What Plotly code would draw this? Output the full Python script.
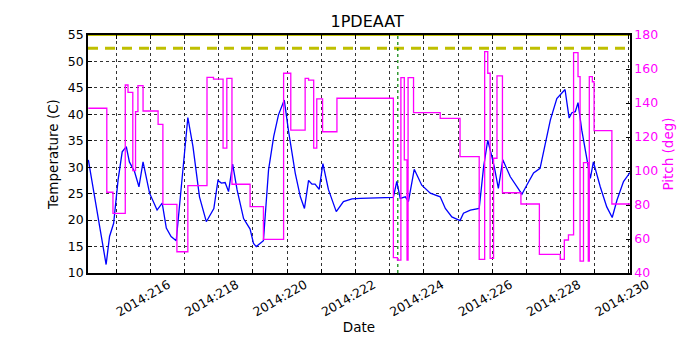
import plotly.graph_objects as go

# temperature (day of year 2014, deg C)
temp_day = [214.19, 214.71, 214.81, 214.93, 215.06, 215.18, 215.30, 215.39, 215.54, 215.67,
            215.79, 215.98, 216.20, 216.35, 216.47, 216.61, 216.76, 216.96, 217.10, 217.25,
            217.44, 217.64, 217.86, 217.98, 218.08, 218.19, 218.29, 218.41, 218.54, 218.73,
            218.92, 219.02, 219.10, 219.31, 219.46, 219.61, 219.75, 219.92, 220.04, 220.24,
            220.39, 220.51, 220.63, 220.73, 220.82, 220.94, 221.05, 221.21, 221.44, 221.65,
            221.90, 222.14, 223.11, 223.21, 223.31, 223.46, 223.55, 223.72, 223.94, 224.19,
            224.48, 224.63, 224.82, 225.06, 225.16, 225.36, 225.62, 225.75, 225.87, 225.99,
            226.06, 226.18, 226.31, 226.53, 226.87, 227.01, 227.21, 227.40, 227.55, 227.70,
            227.89, 228.13, 228.25, 228.33, 228.43, 228.51, 228.62, 228.77, 228.87, 228.96,
            229.16, 229.35, 229.51, 229.65, 229.84, 230.03]
temp_c = [31.4, 11.6, 16.9, 19.4, 27.6, 32.9, 33.9, 31.0, 29.2, 26.3,
          31.0, 25.1, 21.9, 23.2, 18.5, 16.9, 16.1, 30.7, 39.4, 33.9,
          24.4, 19.7, 22.2, 27.5, 27.0, 27.1, 25.4, 30.6, 25.7, 20.3,
          18.3, 15.6, 15.0, 16.1, 29.5, 35.8, 39.9, 42.7, 37.0, 28.9,
          24.4, 22.2, 27.5, 26.8, 26.8, 25.8, 30.7, 25.8, 21.6, 23.5,
          24.0, 24.1, 24.3, 27.3, 24.1, 24.4, 23.5, 29.6, 26.6, 25.1,
          24.4, 22.2, 20.6, 19.9, 21.3, 21.9, 22.2, 30.1, 35.1, 32.0,
          30.1, 26.0, 31.4, 28.2, 24.9, 26.6, 28.9, 29.8, 34.5, 38.9,
          43.0, 44.7, 39.3, 40.3, 40.5, 42.2, 37.0, 31.4, 27.9, 31.0,
          26.3, 22.5, 20.5, 23.8, 27.3, 29.0]

# pitch (deg), step changes
pitch_day = [214.19, 214.73, 214.91, 215.27, 215.35, 215.49, 215.57, 215.64, 215.79, 216.23,
             216.37, 216.78, 217.10, 217.66, 217.85, 218.13, 218.24, 218.39, 218.92, 219.31,
             219.90, 220.11, 220.53, 220.63, 220.78, 220.87, 221.04, 221.46, 223.11, 223.23,
             223.33, 223.43, 223.51, 223.54, 223.70, 224.48, 225.06, 225.62, 225.78, 225.87,
             225.94, 226.04, 226.14, 226.30, 226.84, 227.38, 227.99, 228.11, 228.23, 228.38,
             228.51, 228.57, 228.67, 228.81, 228.84, 228.93, 228.98, 229.50, 230.03]
pitch_deg = [136.9, 87.5, 75.1, 150.6, 146.3, 100.2, 134.9, 150.2, 135.3, 127.4,
             80.4, 52.5, 91.4, 155.1, 154.1, 113.4, 154.5, 92.2, 79.0, 59.8,
             157.5, 124.1, 154.5, 153.5, 113.4, 142.4, 123.1, 142.8, 49.0, 47.6,
             154.9, 106.5, 47.6, 154.9, 134.3, 131.0, 108.4, 48.0, 170.2, 157.5,
             48.6, 107.5, 156.0, 87.2, 80.6, 51.0, 48.0, 59.4, 62.4, 169.6,
             155.5, 47.0, 104.9, 47.0, 155.5, 152.5, 123.7, 80.6, 80.6]

x_range = [214.18, 230.03]
limit_planning = 52.5
limit_caution = 55.0
event_day = 223.24

tick_days = list(range(215, 231))
tick_text = ['2014:%d' % d if d % 2 == 0 else '' for d in tick_days]

fig = go.Figure()

fig.add_trace(go.Scatter(x=x_range, y=[limit_caution, limit_caution], mode='lines',
                         line=dict(color='#bfbf00', width=2), showlegend=False))
fig.add_trace(go.Scatter(x=x_range, y=[limit_planning, limit_planning], mode='lines',
                         line=dict(color='#bfbf00', width=3, dash='10px,7px'), showlegend=False))
fig.add_trace(go.Scatter(x=[event_day, event_day], y=[10, 55], mode='lines',
                         line=dict(color='#008000', width=1.2, dash='dot'), showlegend=False))
fig.add_trace(go.Scatter(x=temp_day, y=temp_c, mode='lines',
                         line=dict(color='#0000ff', width=1.3), showlegend=False))
fig.add_trace(go.Scatter(x=pitch_day, y=pitch_deg, mode='lines', yaxis='y2',
                         line=dict(color='#ff00ff', width=1.3, shape='hv'), showlegend=False))

font = dict(family='DejaVu Sans', size=12.5, color='black')

# the page body has an 8px margin, so the margins are shifted by that much
fig.update_layout(
    width=700, height=350,
    margin=dict(l=80, r=78, t=27, b=85, autoexpand=False),
    plot_bgcolor='white', paper_bgcolor='white',
    font=font,
    title=dict(text='1PDEAAT', x=0.513, xanchor='center', y=0.963, yanchor='middle',
               font=dict(family='DejaVu Sans', size=16, color='black')),
    xaxis=dict(
        range=x_range, tickvals=tick_days, ticktext=tick_text, tickangle=-30,
        ticklabelshift=18, ticklabelstandoff=-2,
        ticks='inside', ticklen=4, tickcolor='black',
        showline=True, linecolor='black', linewidth=1.5, mirror='ticks',
        showgrid=True, gridcolor='#333', griddash='dot', gridwidth=0.5,
        zeroline=False, automargin=False,
        title=dict(text='Date', standoff=4, font=dict(size=13.5)),
    ),
    yaxis=dict(
        range=[10, 55], dtick=5,
        ticks='inside', ticklen=4, tickcolor='black',
        showline=True, linecolor='black', linewidth=1.5, mirror=True,
        showgrid=True, gridcolor='#333', griddash='dot', gridwidth=0.5,
        zeroline=False, automargin=False,
        title=dict(text='Temperature (C)', standoff=6, font=dict(size=13.5)),
    ),
    yaxis2=dict(
        range=[40, 180], dtick=20, overlaying='y', side='right',
        ticks='inside', ticklen=4, tickcolor='black',
        tickfont=dict(family='DejaVu Sans', size=12.5, color='#ff00ff'),
        showline=True, linecolor='black', linewidth=1.5,
        showgrid=False, zeroline=False, automargin=False,
        title=dict(text='Pitch (deg)', standoff=6,
                   font=dict(family='DejaVu Sans', size=13.5, color='#ff00ff')),
    ),
)

fig.write_html('out.html')
